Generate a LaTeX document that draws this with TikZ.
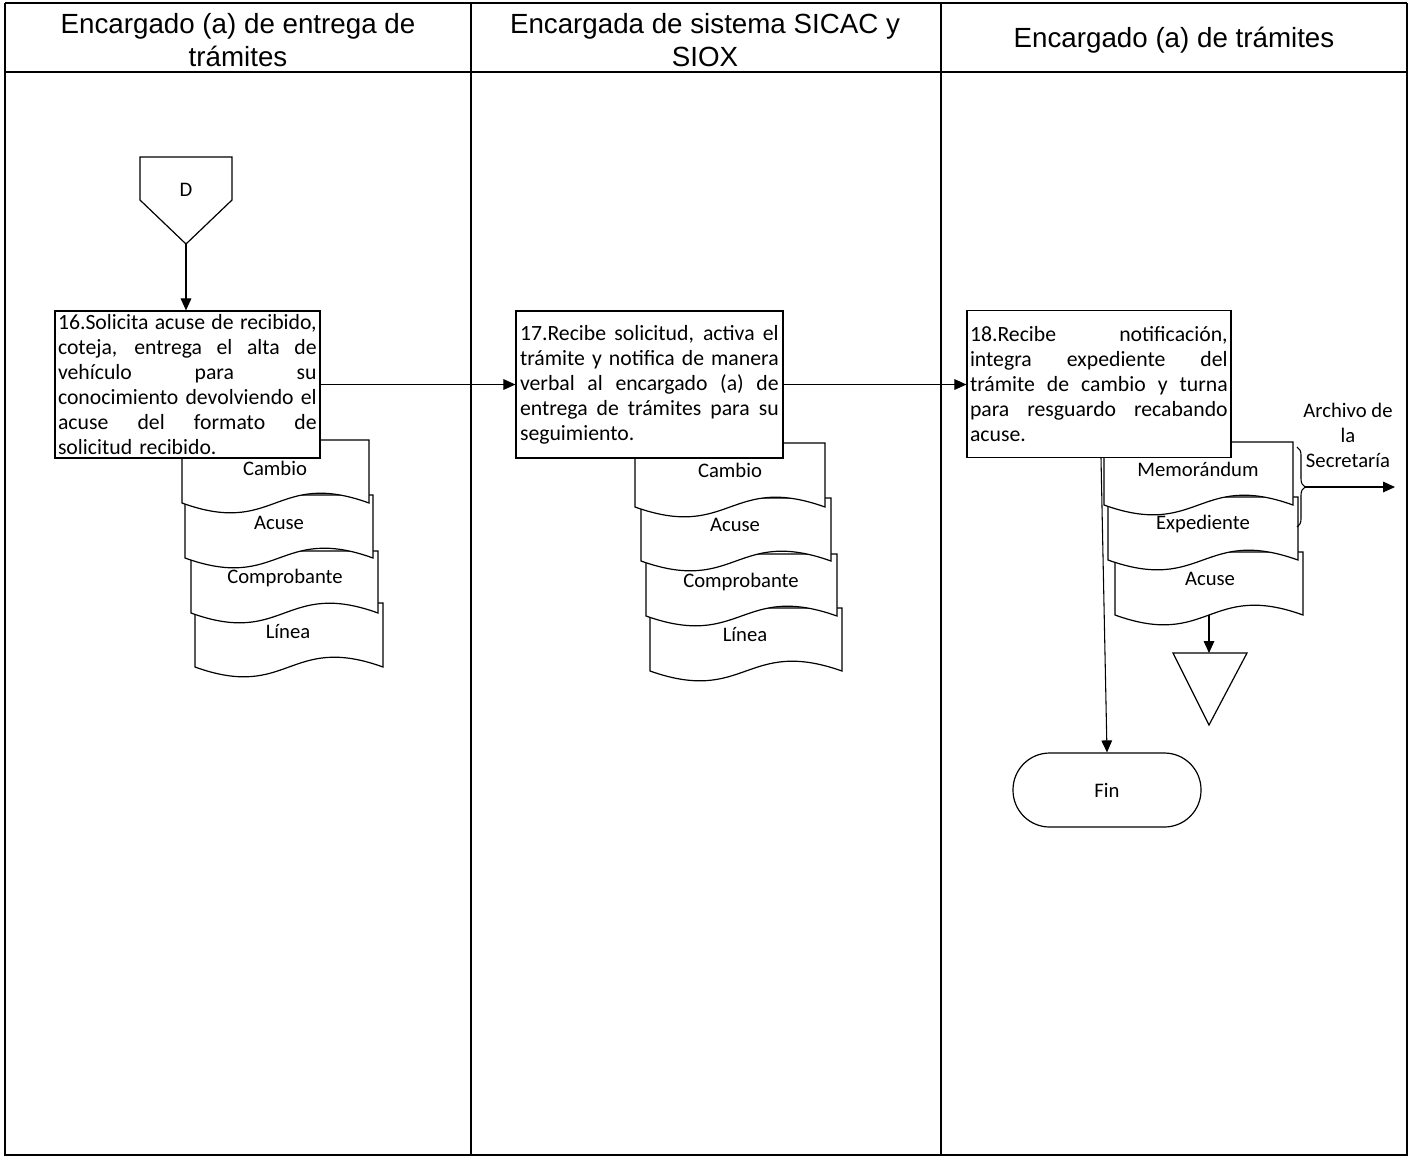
\documentclass[tikz,border=0pt]{standalone}
\usepackage{fontspec}
\setmainfont{Carlito}
\newfontfamily\hdrfont{Liberation Sans}
\usetikzlibrary{arrows.meta,decorations.pathreplacing,calc}
\newcommand\docshape[4]{%
  \pgfmathsetmacro\dmid{(#1+#3)/2}%
  \draw[docline] (#1,#2) -- (#3,#2) -- (#3,#4) .. controls (\dmid,#4-34) and (\dmid,#4+34) .. (#1,#4) -- cycle;}
\newcommand\jl[2][194pt]{\leavevmode\hbox to #1{\spaceskip=0.22em plus 1fil\relax #2}}
\tikzset{
  frame/.style={line width=1.2pt},
  hdr/.style={font=\hdrfont\fontsize{20.8}{24.75}\selectfont, align=center, inner sep=0pt},
  docline/.style={draw, fill=white, line width=0.9pt},
  doclbl/.style={font=\fontsize{15.5}{18.75}\selectfont, inner sep=0pt},
  procbox/.style={draw, fill=white, line width=0.9pt, minimum height=110.25pt, inner xsep=2.25pt, inner ysep=1pt, align=left, font=\fontsize{16.3}{18.75}\selectfont},
  conn/.style={line width=0.8pt, -{Triangle[length=9pt,width=8pt]}},
  lbl/.style={font=\fontsize{15.5}{18.75}\selectfont, align=center, inner sep=0pt}
}
\begin{document}
\begin{tikzpicture}[x=0.75pt,y=-0.75pt]
\useasboundingbox[fill=white] (0,0) rectangle (1413,1158);
% frame
\draw[frame] (5,3) -- (1407,3);
\draw[frame] (5,72) -- (1407,72);
\draw[frame] (5,3) -- (5,1155) -- (1407,1155) -- (1407,3);
\draw[frame] (471,3) -- (471,1155);
\draw[frame] (941,3) -- (941,1155);
% headers
\node[hdr] (h1) at (238,40.5) {Encargado (a) de entrega de\\trámites};
\node[hdr] (h2) at (705,40.5) {Encargada de sistema SICAC y\\SIOX};
\node[hdr] (h3) at (1174,40) {Encargado (a) de trámites};
% off-page connector D
\draw[line width=0.9pt] (140,157) -- (232,157) -- (232,200) -- (186,244) -- (140,200) -- cycle;
\node[lbl] (dlbl) at (186,190) {D};
\coordinate (dtip) at (186,244);
% stack 1
\docshape{195}{603}{383}{667}
\node[doclbl] (s1d) at (288,632) {Línea};
\docshape{191}{551}{378}{613}
\node[doclbl] (s1c) at (285,578) {Comprobante};
\docshape{185}{495}{373}{558}
\node[doclbl] (s1b) at (279,523) {Acuse};
\docshape{182}{440}{369}{503}
\node[doclbl] (s1a) at (275,468) {Cambio};
% stack 2
\docshape{650}{608}{842}{671}
\node[doclbl] (s2d) at (745,635) {Línea};
\docshape{646}{554}{837}{616}
\node[doclbl] (s2c) at (741,582) {Comprobante};
\docshape{641}{498}{831}{561}
\node[doclbl] (s2b) at (735,525) {Acuse};
\docshape{635}{443}{825}{507}
\node[doclbl] (s2a) at (730,470) {Cambio};
% stack 3
\docshape{1115}{552}{1303}{615}
\node[doclbl] (s3c) at (1210,579) {Acuse};
\docshape{1108}{497}{1298}{560}
\node[doclbl] (s3b) at (1203,524) {Expediente};
\docshape{1104}{442}{1293}{505}
\node[doclbl] (s3a) at (1198,469) {Memorándum};
\coordinate (s3bot) at (1209,615);
% process boxes
\node[procbox, minimum width=198.75pt, text width=194.25pt] (b16) at (187.5,384.5) {%
\jl{16.Solicita acuse de recibido,}\\
\jl{coteja, entrega el alta de}\\
\jl{vehículo para su}\\
\jl{conocimiento devolviendo el}\\
\jl{acuse del formato de}\\
solicitud recibido.};
\node[procbox, minimum width=200.25pt, text width=194.25pt] (b17) at (649.5,384.5) {%
\jl{17.Recibe solicitud, activa el}\\
\jl{trámite y notifica de manera}\\
\jl{verbal al encargado (a) de}\\
\jl{entrega de trámites para su}\\
seguimiento.};
\node[procbox, minimum width=198pt, text width=193.5pt] (b18) at (1099,384) {%
\jl[193.25pt]{18.Recibe notificación,}\\
\jl[193.25pt]{integra expediente del}\\
\jl[193.25pt]{trámite de cambio y turna}\\
\jl[193.25pt]{para resguardo recabando}\\
acuse.};
% archive triangle
\draw[line width=0.9pt] (1173,653) -- (1247,653) -- (1209,725) -- cycle;
\coordinate (tritop) at (1209,653);
% terminator
\node[draw, line width=0.9pt, minimum width=141pt, minimum height=55.5pt, rounded corners=27.5pt, font=\fontsize{15.5}{18.75}\selectfont] (fin) at (1107,790) {Fin};
% brace and label
\draw[line width=0.8pt, decorate, decoration={brace, amplitude=6pt}] (1297,447) -- (1297,527);
\coordinate (bracetip) at (1305,487);
\coordinate (archend) at (1395,487);
\node[lbl] (arch) at (1348,435) {Archivo de\\la\\Secretaría};
% connectors
\draw[conn] (dtip) -- (dtip |- b16.north);
\draw[conn] (b16.east) -- (b16.east -| b17.west);
\draw[conn] (b17.east) -- (b17.east -| b18.west);
\draw[conn] ([xshift=1.5pt]b18.south) -- (fin.north);
\draw[conn] (s3bot) -- (tritop);
\draw[conn] (bracetip) -- (archend);
\end{tikzpicture}
\end{document}
